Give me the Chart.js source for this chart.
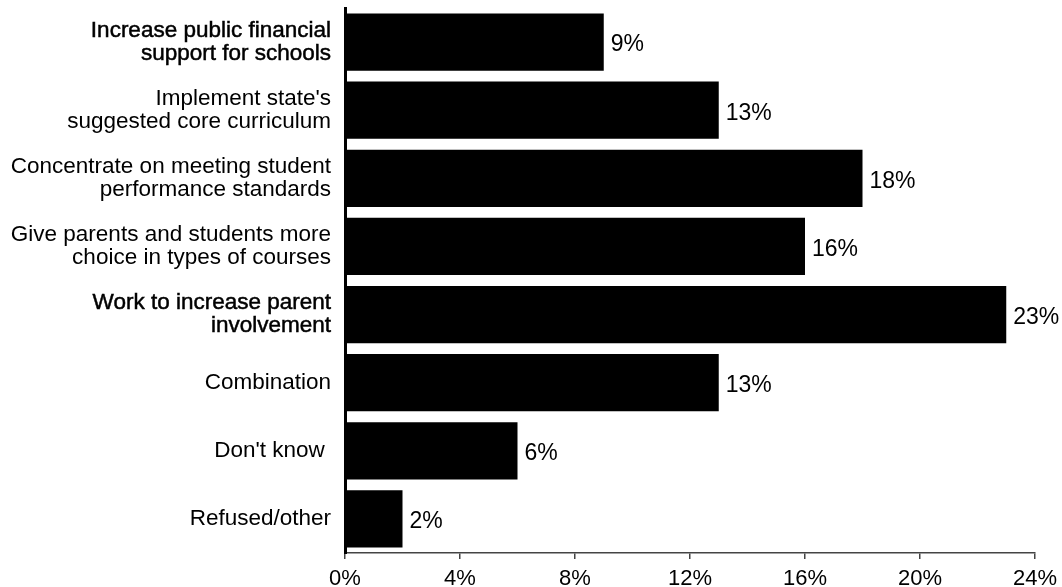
<!DOCTYPE html>
<html>
<head>
<meta charset="utf-8">
<title>School priorities</title>
<script src="https://cdn.jsdelivr.net/npm/chart.js@4/dist/chart.umd.min.js"></script>
<style>
	html, body { margin: 0; padding: 0; background: #fff; }
	#wrap { width: 1062px; height: 587px; position: relative; }
</style>
</head>
<body>
<div id="wrap"><canvas id="chart"></canvas></div>
<script>
// answers, top to bottom
const categories = [
	['Increase public financial', 'support for schools'],
	["Implement state's", 'suggested core curriculum'],
	['Concentrate on meeting student', 'performance standards'],
	['Give parents and students more', 'choice in types of courses'],
	['Work to increase parent', 'involvement'],
	'Combination',
	"Don't know ",
	'Refused/other'
];
const percents = [9, 13, 18, 16, 23, 13, 6, 2];
const tickValues = [0, 4, 8, 12, 16, 20, 24];

const FONT = 'Liberation Sans, Arial, Helvetica, sans-serif';
// these two answers are set a little heavier
const heavy = [0, 4];

// writes "NN%" just past the end of each bar
const valueLabels = {
	id: 'valueLabels',
	afterDatasetsDraw(chart) {
		const ctx = chart.ctx;
		const meta = chart.getDatasetMeta(0);
		ctx.save();
		ctx.font = '23px ' + FONT;
		ctx.fillStyle = '#000';
		ctx.textAlign = 'left';
		ctx.textBaseline = 'middle';
		meta.data.forEach(function (bar, i) {
			ctx.fillText(percents[i] + '%', bar.x + 7, bar.y + 3);
		});
		ctx.restore();
	}
};

const chartLoc = document.getElementById('chart').getContext('2d');
const chart = new Chart(chartLoc, {
	type: 'bar',
	data: {
		labels: categories,
		datasets: [{
			data: percents,
			backgroundColor: '#000',
			borderWidth: 0,
			barPercentage: 0.84,
			categoryPercentage: 1
		}]
	},
	options: {
		indexAxis: 'y',
		responsive: true,
		maintainAspectRatio: false,
		animation: false,
		layout: { padding: { top: 8, right: 27, left: 0, bottom: 0 } },
		plugins: {
			legend: { display: false },
			tooltip: { enabled: false }
		},
		scales: {
			x: {
				min: 0,
				max: 24,
				afterBuildTicks(scale) {
					scale.ticks = tickValues.map(v => ({ value: v }));
				},
				afterFit(scale) {
					scale.height = 34;
					scale.paddingLeft = 0;
					scale.paddingRight = 0;
				},
				grid: {
					drawOnChartArea: false,
					drawTicks: true,
					tickLength: 6,
					color: '#444',
					lineWidth: 1.5
				},
				border: { display: true, color: '#444', width: 1.5 },
				ticks: {
					padding: 7,
					color: '#000',
					maxRotation: 0,
					font: { family: FONT, size: 22 },
					callback: v => v + '%'
				}
			},
			y: {
				afterFit(scale) {
					scale.width = 345;
					scale.paddingTop = 0;
					scale.paddingBottom = 0;
				},
				grid: { display: true, drawOnChartArea: false, drawTicks: false },
				border: { display: true, color: '#000', width: 3 },
				ticks: {
					padding: 14,
					color: '#000',
					font: { family: FONT, size: 22.5, lineHeight: 1.03 },
					textStrokeColor: '#000',
					textStrokeWidth: ctx => heavy.includes(ctx.index) ? 0.5 : 0
				}
			}
		}
	},
	plugins: [valueLabels]
});
</script>
</body>
</html>
